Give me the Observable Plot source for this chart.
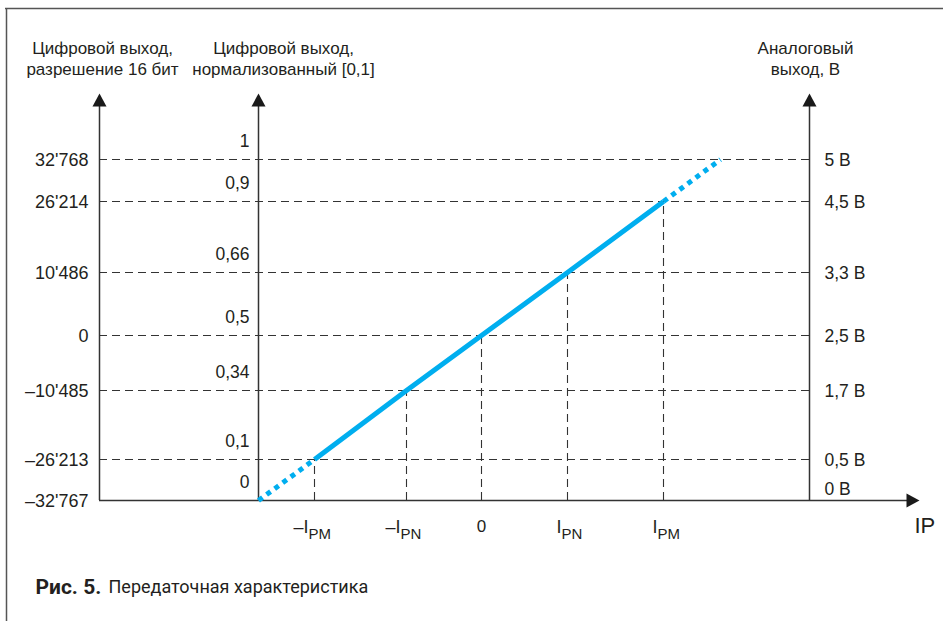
<!DOCTYPE html>
<html><head><meta charset="utf-8">
<script src="https://cdn.jsdelivr.net/npm/d3@7"></script>
<script src="https://cdn.jsdelivr.net/npm/@observablehq/plot@0.6"></script>
<style>body{margin:0;background:#fff;}</style>
</head><body><div id="chart"></div>
<script>
// ---- data ----
const levelsV   = [0, 0.5, 1.7, 2.5, 3.3, 4.5, 5];                 // analog output, V
const labels16  = ["–32'767", "–26'213", "–10'485", "0", "10'486", "26'214", "32'768"];
const labelsNorm= ["0", "0,1", "0,34", "0,5", "0,66", "0,9", "1"];
const labelsV   = ["0 В", "0,5 В", "1,7 В", "2,5 В", "3,3 В", "4,5 В", "5 В"];
const ipTicks   = [-2.5, -1, 0, 1, 2.5];                           // −IPM, −IPN, 0, IPN, IPM
const ipMain    = ["–I", "–I", "0", "I", "I"];
const ipSub     = ["PM", "PN", "", "PN", "PM"];
const lineIP    = [-3.125, -2.5, -1, 0, 1, 2.5, 3.125];            // transfer line, IP
const lineV     = [0, 0.5, 1.7, 2.5, 3.3, 4.5, 5];                 // transfer line, V
const titleLeft  = "Цифровой выход,\nразрешение 16 бит";
const titleMid   = "Цифровой выход,\nнормализованный [0,1]";
const titleRight = "Аналоговый\nвыход, В";
const captionBold = "Рис. 5.";
const captionText = "Передаточная характеристика";

// ---- schematic (piecewise) position mapping used as scale transforms ----
const xStops = [258, 314, 406, 481, 567, 663, 720];
const yStops = [500, 459, 390, 335, 272, 201, 159];
const xs = d3.scaleLinear().domain(lineIP).range(xStops);
const ys = d3.scaleLinear().domain(levelsV).range(yStops);
const X = px => xs.invert(px), Y = py => ys.invert(py);

// layout (pixels)
const L = {left: 99, mid: 258, right: 809, axisTop: 104, arrowY: 99.5, xEnd: 908, arrowX: 912.5};

const pts = lineIP.map((ip, i) => ({ip, v: lineV[i]}));
const lo = d3.min(ipTicks), hi = d3.max(ipTicks);
const solid = pts.filter(d => d.ip >= lo && d.ip <= hi);
const dotted = [...pts.filter(d => d.ip <= lo).map(d => ({...d, seg: "lo"})),
                ...pts.filter(d => d.ip >= hi).map(d => ({...d, seg: "hi"}))];
const ticks = ipTicks.map((ip, i) => ({ip, v: lineV[lineIP.indexOf(ip)], main: ipMain[i], sub: ipSub[i]}));
const levels = levelsV.map((v, i) => ({v, l16: labels16[i], ln: labelsNorm[i], lv: labelsV[i]}));

const upTri = {draw(c) { c.moveTo(0, -6.5); c.lineTo(7, 6.5); c.lineTo(-7, 6.5); c.closePath(); }};
const rightTri = {draw(c) { c.moveTo(6.5, 0); c.lineTo(-6.5, 7); c.lineTo(-6.5, -7); c.closePath(); }};

const ink = "#231f20", axisInk = "#333";
const dash = {stroke: axisInk, strokeWidth: 1.1, strokeDasharray: "8,5"};
const fontMain = "'Liberation Sans', Arial, sans-serif";
const blue = "#00aeef";
const W = 947, H = 621;

const chart = Plot.plot({
  width: W, height: H, margin: 0,
  x: {type: "linear", domain: [0, W], range: [0, W], transform: xs, axis: null},
  y: {type: "linear", domain: [0, H], range: [0, H], transform: ys, axis: null},
  style: {fontFamily: fontMain, fontSize: "17px", color: ink, background: "#fff"},
  marks: [
    // frame
    Plot.ruleY([Y(8)], {x1: X(5), x2: X(943), stroke: "#555", strokeWidth: 1.5}),
    Plot.ruleX([X(6)], {y1: Y(8), y2: Y(621), stroke: "#555", strokeWidth: 1.5}),
    // dashed grid
    Plot.ruleY(levelsV.filter(v => v > 0), {x1: X(L.left), x2: X(L.right), ...dash}),
    Plot.ruleX(ticks, {x: "ip", y1: 0, y2: "v", ...dash}),
    // axes
    Plot.ruleX([X(L.left), X(L.mid), X(L.right)], {y1: 0, y2: Y(L.axisTop), stroke: axisInk, strokeWidth: 1.5}),
    Plot.ruleY([0], {x1: X(L.left), x2: X(L.xEnd), stroke: axisInk, strokeWidth: 1.5}),
    Plot.dot([X(L.left), X(L.mid), X(L.right)], {x: d => d, y: Y(L.arrowY), symbol: upTri, fill: "#1a1a1a", stroke: "none"}),
    Plot.dot([X(L.arrowX)], {x: d => d, y: 0, symbol: rightTri, fill: "#1a1a1a", stroke: "none"}),
    // transfer line
    Plot.line(dotted, {x: "ip", y: "v", z: "seg", stroke: blue, strokeWidth: 5, strokeDasharray: "5,5", strokeLinecap: "butt"}),
    Plot.line(solid, {x: "ip", y: "v", stroke: blue, strokeWidth: 5, strokeLinecap: "butt"}),
    // tick labels
    Plot.text(levels, {x: X(L.left), y: "v", text: "l16", textAnchor: "end", dx: -11, dy: 1, fontSize: 18}),
    Plot.text(levels, {x: X(L.mid), y: "v", text: "ln", textAnchor: "end", dx: -9, dy: -18, fontSize: 17.5}),
    Plot.text(levels.filter(d => d.v > 0), {x: X(L.right), y: "v", text: "lv", textAnchor: "start", dx: 15, dy: 1, fontSize: 17.5}),
    Plot.text(levels.filter(d => d.v === 0), {x: X(L.right), y: "v", text: "lv", textAnchor: "start", dx: 15, dy: -11, fontSize: 17.5}),
    Plot.text(ticks.filter(d => d.sub), {x: "ip", y: 0, text: "main", textAnchor: "end", dx: -6, dy: 27, fontSize: 18}),
    Plot.text(ticks.filter(d => d.sub), {x: "ip", y: 0, text: "sub", textAnchor: "start", dx: -6, dy: 34, fontSize: 15}),
    Plot.text(ticks.filter(d => !d.sub), {x: "ip", y: 0, text: "main", textAnchor: "middle", dy: 26, fontSize: 17}),
    Plot.text(["IP"], {text: d => d, frameAnchor: "top-left", dx: 914, dy: 525, textAnchor: "start", lineAnchor: "middle", fontSize: 22}),
    // axis titles
    Plot.text([titleLeft], {text: d => d, frameAnchor: "top-left", dx: 102, dy: 57.5, textAnchor: "middle", lineAnchor: "middle", lineHeight: 1.22}),
    Plot.text([titleMid], {text: d => d, frameAnchor: "top-left", dx: 283, dy: 57.5, textAnchor: "middle", lineAnchor: "middle", lineHeight: 1.22}),
    Plot.text([titleRight], {text: d => d, frameAnchor: "top-left", dx: 805, dy: 57.5, textAnchor: "middle", lineAnchor: "middle", lineHeight: 1.22}),
    // caption
    Plot.text([captionBold], {text: d => d, frameAnchor: "top-left", dx: 35, dy: 587, textAnchor: "start", lineAnchor: "middle", fontFamily: "Roboto, sans-serif", fontWeight: "bold", fontSize: 21}),
    Plot.text([captionText], {text: d => d, frameAnchor: "top-left", dx: 108, dy: 587, textAnchor: "start", lineAnchor: "middle", fontFamily: "Roboto, sans-serif", fontSize: 18})
  ]
});
document.getElementById("chart").appendChild(chart);
</script>
</body></html>
